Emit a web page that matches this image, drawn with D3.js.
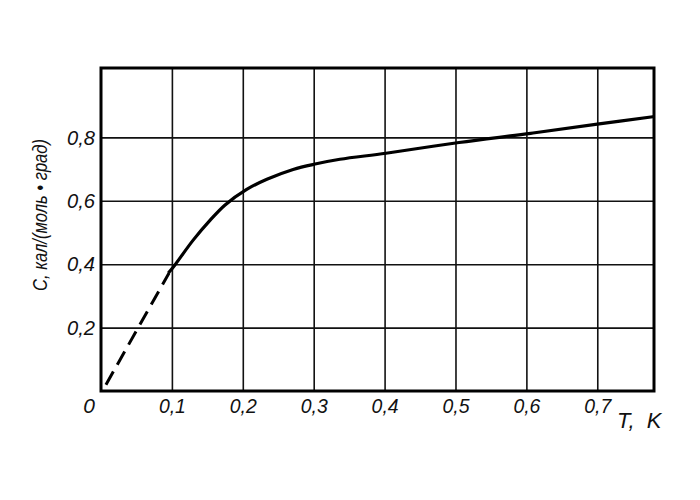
<!DOCTYPE html>
<html>
<head>
<meta charset="utf-8">
<script src="https://cdn.jsdelivr.net/npm/d3@7"></script>
<style>
  body { margin: 0; background: #fff; }
  text { font-family: "Liberation Sans", Arial, sans-serif; fill: #111; }
</style>
</head>
<body>
<div id="chart"></div>
<script>
// dashed part (extrapolation to zero)
let dash_T = [0.007, 0.096];
let dash_C = [0.02, 0.372];
// measured part
let solid_T = [0.095, 0.104, 0.13, 0.154, 0.175, 0.2055, 0.234, 0.271, 0.302, 0.337, 0.402, 0.505, 0.606, 0.7, 0.781];
let solid_C = [0.372, 0.397, 0.476, 0.539, 0.587, 0.636, 0.668, 0.699, 0.716, 0.731, 0.750, 0.784, 0.813, 0.842, 0.866];

let x_ticks = [0.1, 0.2, 0.3, 0.4, 0.5, 0.6, 0.7];
let y_ticks = [0.2, 0.4, 0.6, 0.8];

let svg = d3.select("#chart").append("svg")
  .attr("width", 700)
  .attr("height", 500);

let m_left = 101, m_right = 654, m_top = 68, m_bottom = 391;
let w = m_right - m_left, h = m_bottom - m_top;

let x = d3.scaleLinear().domain([0, 0.78]).range([0, w]);
let y = d3.scaleLinear().domain([0, 1.019]).range([h, 0]);

let g = svg.append("g").attr("transform", `translate(${m_left},${m_top})`);

let fmt = d => String(d).replace(".", ",");

// grid + x labels
let xa = g.append("g")
  .attr("transform", `translate(0,${h})`)
  .call(d3.axisBottom(x).tickValues(x_ticks).tickSize(-h).tickPadding(7).tickFormat(fmt));
xa.select(".domain").remove();
xa.selectAll("line").attr("stroke", "#111").attr("stroke-width", 1.6);
xa.selectAll("text").style("font-size", "21px").style("font-style", "italic").attr("fill", "#111")
  .attr("textLength", 27).attr("lengthAdjust", "spacingAndGlyphs");

let ya = g.append("g")
  .call(d3.axisLeft(y).tickValues(y_ticks).tickSize(-w).tickPadding(6).tickFormat(fmt));
ya.select(".domain").remove();
ya.selectAll("line").attr("stroke", "#111").attr("stroke-width", 1.6);
ya.selectAll("text").style("font-size", "21px").style("font-style", "italic").attr("fill", "#111")
  .attr("textLength", 28).attr("lengthAdjust", "spacingAndGlyphs");

// frame
g.append("rect")
  .attr("x", 0).attr("y", 0)
  .attr("width", w).attr("height", h)
  .attr("fill", "none")
  .attr("stroke", "#000")
  .attr("stroke-width", 3);

let line = d3.line()
  .x(d => x(d[0]))
  .y(d => y(d[1]))
  .curve(d3.curveCatmullRom.alpha(0.5));

g.append("path")
  .datum(dash_T.map((t, i) => [t, dash_C[i]]))
  .attr("d", line)
  .attr("fill", "none")
  .attr("stroke", "#000")
  .attr("stroke-width", 3)
  .attr("stroke-dasharray", "15,8");

g.append("path")
  .datum(solid_T.map((t, i) => [t, solid_C[i]]))
  .attr("d", line)
  .attr("fill", "none")
  .attr("stroke", "#000")
  .attr("stroke-width", 3.2);

// origin zero
g.append("text")
  .attr("x", x(0) - 12)
  .attr("y", h + 22)
  .attr("text-anchor", "middle")
  .style("font-size", "21px")
  .style("font-style", "italic")
  .text("0");

// axis titles
svg.append("text")
  .attr("x", 617)
  .attr("y", 428)
  .style("font-size", "22px")
  .style("font-style", "italic")
  .attr("xml:space", "preserve")
  .text("T,  K");

svg.append("text")
  .attr("transform", "translate(47,215) rotate(-90)")
  .attr("text-anchor", "middle")
  .attr("textLength", 152)
  .attr("lengthAdjust", "spacingAndGlyphs")
  .style("font-size", "20px")
  .style("font-style", "italic")
  .text("C, кал/(моль • град)");
</script>
</body>
</html>
